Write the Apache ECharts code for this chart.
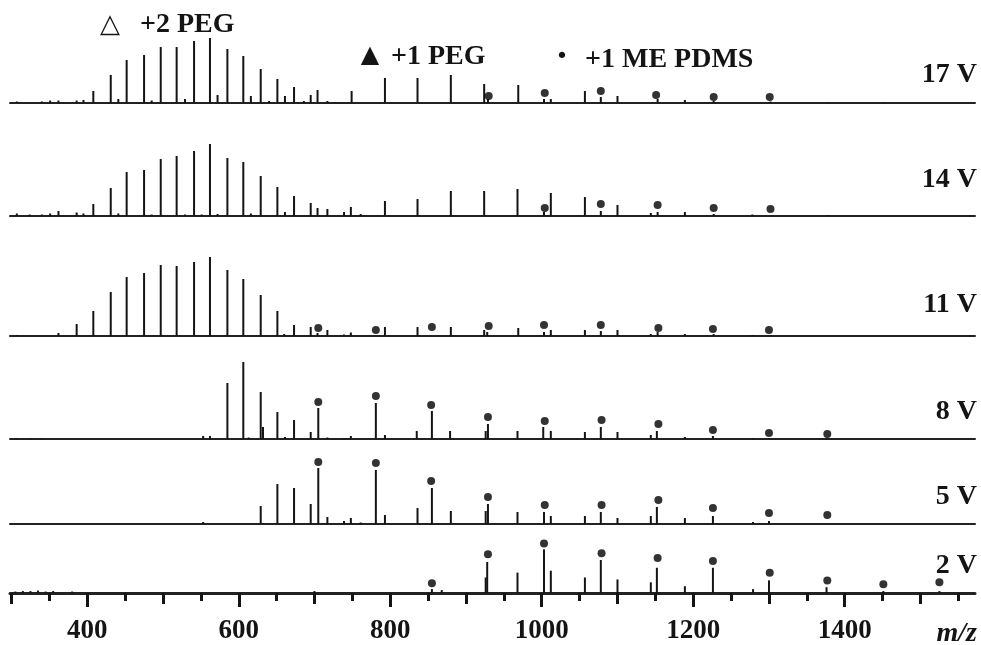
<!DOCTYPE html>
<html><head><meta charset="utf-8">
<script src="https://cdn.jsdelivr.net/npm/echarts@6/dist/echarts.min.js"></script>
<style>html,body{margin:0;padding:0;background:#fff}#c{width:981px;height:645px}</style>
</head><body><div id="c"></div>
<script>
// ---------- DATA (m/z, relative intensity) ----------
const traceNames = ['17 V', '14 V', '11 V', '8 V', '5 V', '2 V'];

const peaks17V = [[307,1.5],[340,1.5],[351,2.5],[362,2.5],[386,2.5],[395,3],[408,12],[431,28],[441,4],[452,43],[475,48],[485,2.5],[497,56],[518,56],[529,4],[541,62],[562,65],[572,8],[585,54],[606,47],[616,7],[629,34],[640,2],[651,24],[661,7],[673,16],[686,2],[695,8],[704,13],[717,2],[728,1],[749,12],[793,25],[836,25],[880,28],[924,19],[929,4],[969,18],[1003,4],[1012,4],[1057,12],[1078,6],[1100,7],[1153,4],[1189,3],[1227,2],[1302,1.5],[1377,1],[1451,1]];
const dots17V = [[930,7],[1004,10],[1078,12],[1151,8],[1227,6],[1301,6]];

const peaks14V = [[307,2.5],[324,1.5],[340,1.5],[351,2.5],[362,5],[386,3.5],[395,2.5],[408,12],[431,28],[441,2.5],[452,44],[475,46],[485,1.5],[497,57],[518,60],[529,1.5],[541,65],[551,1.5],[562,72],[572,2],[585,58],[606,54],[616,2.5],[629,40],[651,29],[661,4],[673,20],[695,13],[704,8],[717,7],[739,4],[748,9],[761,2],[793,15],[836,17],[880,25],[924,25],[968,27],[1003,4],[1012,23],[1057,19],[1078,5],[1100,11],[1144,3],[1153,4],[1189,4],[1227,2],[1278,1.5],[1377,1]];
const dots14V = [[1004,8],[1078,12],[1153,11],[1227,8],[1302,7]];

const peaks11V = [[307,1],[362,3],[386,12],[408,25],[431,44],[452,59],[475,63],[497,71],[518,70],[541,74],[562,79],[585,66],[606,57],[629,41],[651,25],[660,2],[673,11],[695,9],[704,3],[717,6],[739,1.5],[748,3.5],[793,9],[836,9],[880,9],[924,6],[928,4],[969,8],[1003,4],[1012,6],[1057,6],[1078,5],[1100,6],[1144,2],[1153,4],[1189,2],[1227,2],[1278,1],[1302,1]];
const dots11V = [[705,8],[781,6],[855,9],[930,10],[1003,11],[1078,11],[1154,8],[1226,7],[1300,6]];

const peaks8V = [[307,1],[325,1],[340,1],[553,3],[562,3],[585,56],[606,77],[613,1.5],[629,47],[632,12],[651,27],[661,2],[673,19],[695,7],[705,31],[717,1.5],[739,1],[748,3],[781,36],[793,4],[835,8],[855,28],[879,8],[926,8],[929,15],[968,8],[1002,12],[1012,8],[1057,7],[1078,12],[1100,7],[1144,4],[1152,8],[1189,2],[1226,3],[1279,1],[1300,1],[1376,1]];
const dots8V = [[705,37],[781,43],[854,34],[929,22],[1004,18],[1079,19],[1154,15],[1226,9],[1300,6],[1377,5]];

const peaks5V = [[553,2],[629,18],[651,40],[673,36],[695,20],[705,56],[717,7],[739,3],[748,6],[761,1.5],[781,54],[793,9],[836,16],[855,36],[880,13],[926,13],[929,20],[968,12],[1003,12],[1012,8],[1057,8],[1078,12],[1100,6],[1144,8],[1152,17],[1189,6],[1226,8],[1279,2],[1300,3]];
const dots5V = [[705,62],[781,61],[854,43],[929,27],[1004,19],[1079,19],[1154,24],[1226,16],[1300,11],[1377,9]];

const peaks2V = [[305,1.5],[315,2],[325,2],[335,2.5],[345,1.5],[355,2],[380,1.5],[700,2],[855,4],[868,3],[926,16],[928,32],[968,21],[1003,45],[1012,23],[1057,16],[1078,34],[1100,14],[1144,11],[1152,26],[1189,7],[1226,26],[1279,4],[1300,13],[1376,6],[1451,2],[1525,2]];
const dots2V = [[855,10],[929,40],[1003,51],[1079,41],[1153,36],[1226,33],[1301,21],[1377,13],[1451,9],[1525,11]];

const labelTicks = [400, 600, 800, 1000, 1200, 1400];
const hundredTicks = [300, 400, 500, 600, 700, 800, 900, 1000, 1100, 1200, 1300, 1400, 1500];
const fiftyTicks = [350, 450, 550, 650, 750, 850, 950, 1050, 1150, 1250, 1350, 1450, 1550];

const legendItems = [
  { mark: '\u25B3', text: '+2 PEG' },
  { mark: '\u25B2', text: '+1 PEG' },
  { mark: '\u2022', text: '+1 ME PDMS' }
];
const axisTitle = 'm/z';

// ---------- LAYOUT ----------
const peaksAll = [peaks17V, peaks14V, peaks11V, peaks8V, peaks5V, peaks2V];
const dotsAll = [dots17V, dots14V, dots11V, dots8V, dots5V, dots2V];
const baselines = [103, 216, 336, 439, 524, 596];
const labelY = [75, 180, 305, 412, 497, 566];
const X_MIN = 298, X_MAX = 1572;
const GRID_H = 100;
const SERIF = '"Liberation Serif","Times New Roman",serif';
const INK = '#141414';

const grids = [], xAxes = [], yAxes = [], series = [];
baselines.forEach((b, i) => {
  grids.push({ left: 10, right: 6, top: b - GRID_H, height: GRID_H });
  const last = i === baselines.length - 1;
  xAxes.push({
    gridIndex: i, type: 'value', min: X_MIN, max: X_MAX, position: 'bottom',
    axisLine: { show: true, onZero: false, lineStyle: { color: '#222', width: last ? 3 : 2 } },
    axisTick: { show: false }, axisLabel: { show: false }, splitLine: { show: false }
  });
  yAxes.push({ gridIndex: i, type: 'value', min: 0, max: GRID_H, show: false });
});
const bottom = baselines.length - 1;
// extra overlapping axes for the three tick levels on the bottom trace
const tickAxis = (vals, len, withLabels) => ({
  gridIndex: bottom, type: 'value', min: X_MIN, max: X_MAX, position: 'bottom', offset: 0,
  axisLine: { show: false, onZero: false },
  axisTick: { show: true, customValues: vals, length: len, lineStyle: { color: INK, width: 3 } },
  axisLabel: withLabels ? {
    show: true, customValues: labelTicks, margin: 25, formatter: v => String(v),
    fontFamily: SERIF, fontWeight: 'bold', fontSize: 27, color: INK
  } : { show: false },
  splitLine: { show: false }
});
xAxes.push(tickAxis(fiftyTicks, 8, false));
xAxes.push(tickAxis(hundredTicks, 11, false));
xAxes.push(tickAxis(labelTicks, 14, true));

peaksAll.forEach((p, i) => {
  series.push({
    type: 'bar', xAxisIndex: i, yAxisIndex: i, data: p, barWidth: 2,
    itemStyle: { color: INK }, silent: true
  });
  series.push({
    type: 'scatter', xAxisIndex: i, yAxisIndex: i, data: dotsAll[i], symbol: 'circle',
    symbolSize: 8, itemStyle: { color: '#000' }, silent: true
  });
});

const graphic = [];
traceNames.forEach((t, i) => {
  graphic.push({ type: 'text', x: 977, y: labelY[i],
    style: { text: t, font: 'bold 28px ' + SERIF, fill: INK, align: 'right', verticalAlign: 'middle' } });
});
// legend annotations
const legPos = [
  { mx: 110, my: 25, ms: 26, tx: 140, ty: 25 },
  { mx: 370, my: 56, ms: 24, tx: 391, ty: 57 },
  { mx: 562, my: 57, ms: 22, tx: 585, ty: 60 }
];
legendItems.forEach((it, i) => {
  const p = legPos[i];
  graphic.push({ type: 'text', x: p.mx, y: p.my,
    style: { text: it.mark, font: p.ms + 'px "DejaVu Sans"', fill: INK, align: 'center', verticalAlign: 'middle' } });
  graphic.push({ type: 'text', x: p.tx, y: p.ty,
    style: { text: it.text, font: 'bold 28px ' + SERIF, fill: INK, align: 'left', verticalAlign: 'middle' } });
});
graphic.push({ type: 'text', x: 977, y: 634,
  style: { text: axisTitle, font: 'italic bold 28px ' + SERIF, fill: INK, align: 'right', verticalAlign: 'middle' } });

const chart = echarts.init(document.getElementById('c'), null, { renderer: 'canvas' });
chart.setOption({
  animation: false,
  backgroundColor: '#fff',
  grid: grids, xAxis: xAxes, yAxis: yAxes, series: series, graphic: graphic
});
</script></body></html>
